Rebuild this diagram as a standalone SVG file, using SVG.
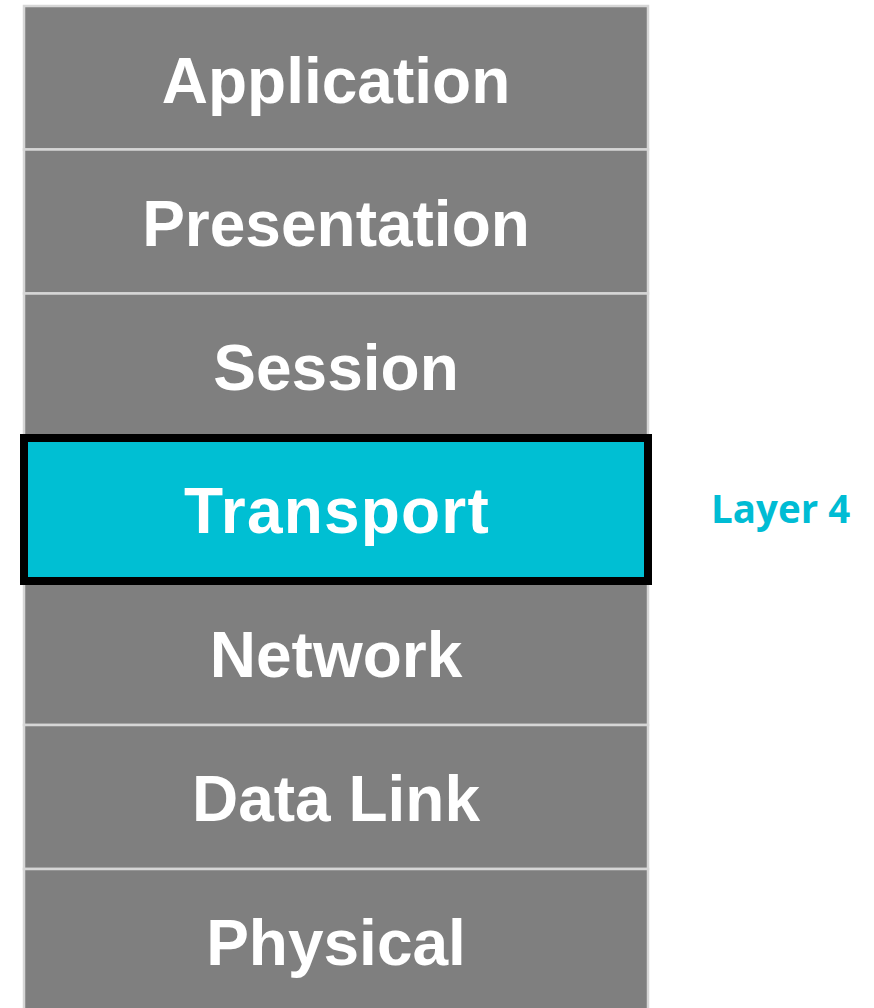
<svg xmlns="http://www.w3.org/2000/svg" width="874" height="1008" viewBox="0 0 874 1008">
  <style>
    .row { fill: #7f7f7f; stroke: #d6d6d6; stroke-width: 2.5; }
    .hl { fill: #00bfd3; stroke: #000000; stroke-width: 8; }
    .lbl { font-family: "Liberation Sans", Arial, sans-serif; font-weight: bold; font-size: 64px; fill: #ffffff; text-anchor: middle; }
    .side { font-family: "Open Sans", "Noto Sans", sans-serif; font-weight: bold; font-size: 38.5px; fill: #00bcd4; }
  </style>
  <rect width="874" height="1008" fill="#ffffff"/>
  <g id="application">
    <rect class="row" x="24" y="6" width="624" height="143.5"/>
    <text class="lbl" x="336" y="103">Application</text>
  </g>
  <g id="presentation">
    <rect class="row" x="24" y="149.5" width="624" height="144"/>
    <text class="lbl" x="336" y="246">Presentation</text>
  </g>
  <g id="session">
    <rect class="row" x="24" y="293.5" width="624" height="144.5"/>
    <text class="lbl" x="336" y="390">Session</text>
  </g>
  <g id="network">
    <rect class="row" x="24" y="581" width="624" height="144"/>
    <text class="lbl" x="336" y="677">Network</text>
  </g>
  <g id="datalink">
    <rect class="row" x="24" y="725" width="624" height="144"/>
    <text class="lbl" x="336" y="821">Data Link</text>
  </g>
  <g id="physical">
    <rect class="row" x="24" y="869" width="624" height="144"/>
    <text class="lbl" x="336" y="965">Physical</text>
  </g>
  <g id="transport">
    <rect class="hl" x="24" y="438" width="624" height="143"/>
    <text class="lbl" x="337" y="533" letter-spacing="1.2">Transport</text>
  </g>
  <g id="layer4-label">
    <text class="side" x="711" y="523">Layer 4</text>
  </g>
  <g id="connectors"></g>
</svg>
